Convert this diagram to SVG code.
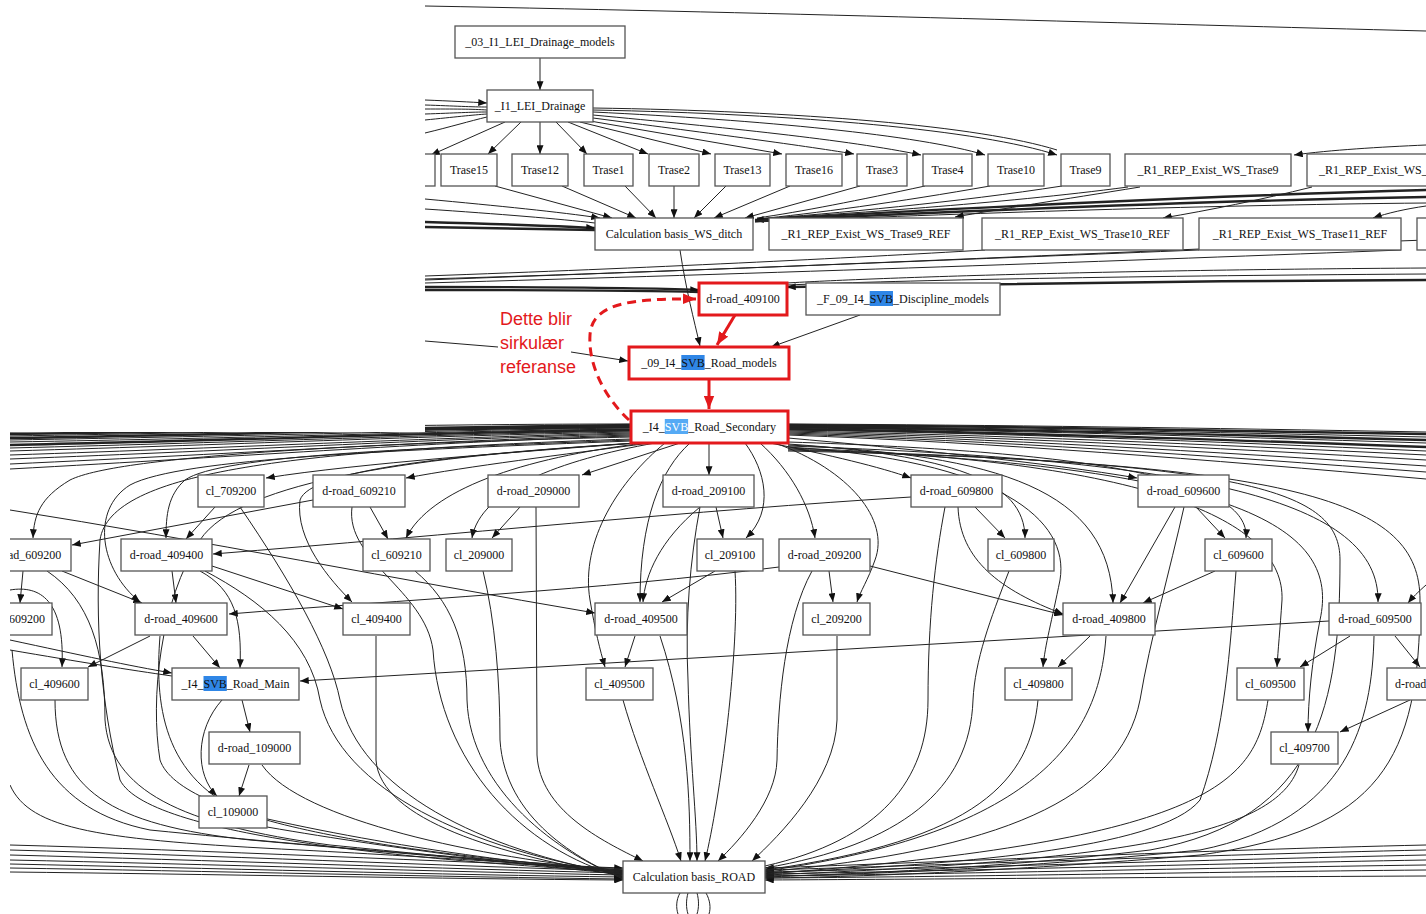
<svg xmlns="http://www.w3.org/2000/svg" width="1426" height="914" viewBox="0 0 1426 914">
<style>
.e{fill:none;stroke:#222;stroke-width:1}
.a{marker-end:url(#ah)}
.b{stroke-width:2.4}
.rd{fill:none;stroke:#e3191c;stroke-width:3;marker-end:url(#ar)}
.n rect{fill:#fff;stroke:#555;stroke-width:1.3}
.r rect{fill:#fff;stroke:#e3191c;stroke-width:3}
.n rect.hl,.r rect.hl{fill:#2f86e6;stroke:none}
.r rect.hl2{fill:#55aaf5;stroke:none}
.t{font-family:"Liberation Serif","Times New Roman",serif;font-size:12px;fill:#111;text-anchor:middle}
.ts{font-family:"Liberation Serif","Times New Roman",serif;font-size:12px;fill:#111}
.lab{font-family:"Liberation Sans",Arial,sans-serif;font-size:18px;fill:#e3191c}
</style>
<defs>
<marker id="ah" viewBox="0 0 10 8" refX="10" refY="4" markerWidth="9" markerHeight="7" markerUnits="userSpaceOnUse" orient="auto"><path d="M0,0L10,4L0,8z" fill="#111"/></marker>
<marker id="ar" viewBox="0 0 10 8" refX="10" refY="4" markerWidth="13" markerHeight="11" markerUnits="userSpaceOnUse" orient="auto"><path d="M0,0L10,4L0,8z" fill="#e3191c"/></marker>
<clipPath id="vis"><path d="M425,0H1426V914H10V432H425Z"/></clipPath>
</defs>
<rect width="1426" height="914" fill="#fff"/>
<g clip-path="url(#vis)">
<g id="connectors">
<!-- top -->
<path class="e" d="M425,6 C800,13 1150,24 1426,31"/>
<path class="e a" d="M540,58 L540,90"/>
<path class="e a" d="M425,100 C450,101 470,102 487,103"/>
<path class="e" d="M425,105 C455,106 472,107 487,107"/>
<path class="e" d="M425,109 C455,109 472,109 487,110"/>
<path class="e" d="M425,114 C455,113 472,112 487,112"/>
<path class="e" d="M425,120 C455,117 472,115 487,114"/>
<path class="e" d="M425,133 C450,127 470,121 487,117"/>
<path class="e a" d="M505,122 L431,155"/>
<path class="e a" d="M521,122 L488,154"/>
<path class="e a" d="M540,122 L540,154"/>
<path class="e a" d="M556,122 L587,154"/>
<path class="e a" d="M568,122 L648,154"/>
<path class="e a" d="M580,122 L711,154"/>
<path class="e a" d="M590,121 L782,154"/>
<path class="e a" d="M593,118 C700,132 800,145 854,154"/>
<path class="e a" d="M593,115 C720,127 850,140 921,155"/>
<path class="e a" d="M593,112 C760,120 920,135 985,155"/>
<path class="e a" d="M593,110 C800,114 980,130 1057,155"/>
<path class="e" d="M593,108 C800,111 980,126 1057,150"/>
<path class="e a" d="M1426,145 C1380,147 1330,150 1294,155"/>
<path class="e a" d="M425,199 C500,206 560,212 600,218"/>
<path class="e" d="M425,209 C500,214 560,219 595,223"/>
<path class="e b a" d="M425,222 C500,224 560,226 595,228"/>
<path class="e b" d="M425,227 C500,228 560,229 595,230"/>
<path class="e a" d="M495,186 L612,218"/>
<path class="e a" d="M562,186 L636,218"/>
<path class="e a" d="M625,186 L656,218"/>
<path class="e a" d="M674,186 L674,218"/>
<path class="e a" d="M726,186 L694,218"/>
<path class="e a" d="M790,186 L714,218"/>
<path class="e a" d="M860,186 L745,218"/>
<path class="e" d="M925,186 C860,200 800,212 757,218"/>
<path class="e" d="M990,186 C900,202 810,214 757,219"/>
<path class="e" d="M1062,186 C960,202 830,214 757,219"/>
<path class="e" d="M1128,187 C1000,204 840,214 757,219"/>
<path class="e b a" d="M1426,190 C1200,196 920,210 755,220"/>
<path class="e b" d="M1426,197 C1200,201 920,213 755,221"/>
<path class="e" d="M1426,203 C1200,205 920,215 755,222"/>
<path class="e a" d="M1140,187 C1060,200 1000,209 955,217"/>
<path class="e a" d="M1312,187 C1260,200 1210,210 1163,218"/>
<path class="e a" d="M1426,206 C1405,209 1388,213 1373,218"/>
<path class="e" d="M985,250 C850,258 650,268 425,276"/>
<path class="e" d="M1199,250 C1000,258 700,270 425,280"/>
<path class="e" d="M1401,250 C1150,260 750,274 425,283"/>
<path class="e" d="M1426,240 C1150,250 750,270 425,279"/>
<path class="e b a" d="M425,287 C550,287 650,288 699,290"/>
<path class="e b" d="M425,290 C550,290 640,290 699,292"/>
<path class="e b a" d="M1426,280 C1200,281 900,284 787,287"/>
<path class="e" d="M1426,268 C1100,270 870,278 787,283"/>
<path class="e" d="M1426,274 C1100,276 880,281 787,285"/>
<path class="e a" d="M680,250 C686,290 694,320 700,346"/>
<!-- middle -->
<path class="e" d="M425,341 L498,347"/>
<path class="e a" d="M571,352 L628,361"/>
<path class="rd" d="M735,315 L717,345"/>
<path class="e a" d="M860,315 L771,347"/>
<path class="rd" d="M709,380 L709,409"/>
<path class="rd" stroke-dasharray="9,6" d="M629,420 C605,398 588,365 590,335 C592,305 625,298 696,299"/>
<!-- secondary left bundle -->
<path class="e" d="M631,424 C450,424 250,428 10,432"/>
<path class="e b" d="M631,425 C450,426 250,430 10,434"/>
<path class="e" d="M631,426 C450,427 250,432 10,436"/>
<path class="e b" d="M631,427 C450,428 250,434 10,438"/>
<path class="e" d="M631,428 C450,430 250,436 10,440"/>
<path class="e" d="M631,429 C450,431 250,438 10,442"/>
<path class="e b" d="M631,430 C450,432 250,440 10,445"/>
<path class="e" d="M631,431 C450,434 250,442 10,448"/>
<path class="e" d="M631,432 C450,435 250,444 10,451"/>
<path class="e" d="M631,433 C450,437 250,447 10,455"/>
<path class="e" d="M631,434 C450,438 250,450 10,459"/>
<path class="e" d="M631,435 C450,440 250,453 10,464"/>
<path class="e" d="M631,436 C450,441 250,456 10,469"/>
<!-- secondary right bundle -->
<path class="e" d="M788,424 C1000,425 1200,428 1426,432"/>
<path class="e b" d="M788,425 C1000,426 1200,430 1426,434"/>
<path class="e" d="M788,426 C1000,428 1200,432 1426,437"/>
<path class="e b" d="M788,427 C1000,429 1200,434 1426,440"/>
<path class="e" d="M788,428 C1000,430 1200,436 1426,443"/>
<path class="e b" d="M788,429 C1000,432 1200,439 1426,447"/>
<path class="e" d="M788,430 C1000,433 1200,441 1426,451"/>
<path class="e" d="M788,431 C1000,435 1200,444 1426,455"/>
<path class="e" d="M788,432 C1000,437 1200,447 1426,460"/>
<path class="e" d="M788,433 C1000,439 1200,451 1426,466"/>
<path class="e" d="M788,434 C1000,441 1200,455 1426,472"/>
<path class="e" d="M788,435 C1000,443 1200,459 1426,479"/>
<!-- secondary children -->
<path class="e a" d="M636,443 C520,452 360,463 266,478"/>
<path class="e a" d="M650,443 C560,455 470,466 406,478"/>
<path class="e a" d="M680,443 L582,475"/>
<path class="e a" d="M709,443 L709,475"/>
<path class="e a" d="M770,443 C830,455 880,467 911,478"/>
<path class="e a" d="M788,438 C900,448 1050,463 1137,478"/>
<path class="e a" d="M631,437 C380,443 120,455 70,480 C40,498 34,515 33,538"/>
<path class="e a" d="M631,440 C420,448 220,455 185,480 C168,495 166,515 166,538"/>
<path class="e a" d="M631,441 C400,450 180,458 130,485 C90,510 100,570 140,602"/>
<path class="e a" d="M645,443 C520,458 430,490 406,538"/>
<path class="e a" d="M655,443 C560,460 480,490 472,538"/>
<path class="e a" d="M635,443 C450,455 310,470 300,500 C295,540 330,580 352,602"/>
<path class="e a" d="M690,443 C660,470 640,520 640,602"/>
<path class="e a" d="M665,443 C620,480 580,540 590,600 C595,630 600,650 605,667"/>
<path class="e a" d="M745,443 C765,470 775,510 746,538"/>
<path class="e a" d="M760,443 C790,470 810,505 815,538"/>
<path class="e a" d="M775,443 C850,470 890,520 875,560 C868,580 860,592 857,602"/>
<path class="e a" d="M788,444 C950,455 1025,480 1025,538"/>
<path class="e a" d="M788,445 C1000,455 1110,490 1113,603"/>
<path class="e a" d="M788,442 C1100,452 1250,480 1246,538"/>
<path class="e a" d="M788,446 C1200,460 1380,500 1378,602"/>
<path class="e a" d="M788,447 C1000,460 1070,520 1060,580 C1052,620 1045,645 1043,667"/>
<path class="e a" d="M788,448 C1150,460 1285,520 1282,600 C1280,630 1278,650 1277,667"/>
<path class="e a" d="M788,449 C1250,465 1340,530 1320,620 C1312,660 1308,700 1308,732"/>
<!-- other edges -->
<path class="e a" d="M1426,585 C1418,592 1412,598 1408,603"/>
<path class="e a" d="M215,507 L186,539"/>
<path class="e a" d="M313,500 L72,545"/>
<path class="e a" d="M370,507 L388,539"/>
<path class="e a" d="M520,507 L492,538"/>
<path class="e a" d="M716,507 L723,538"/>
<path class="e a" d="M700,507 C660,540 645,575 643,602"/>
<path class="e a" d="M715,571 L662,602"/>
<path class="e a" d="M975,507 L1005,538"/>
<path class="e a" d="M1196,507 L1225,538"/>
<path class="e a" d="M1175,507 L1120,603"/>
<path class="e a" d="M1215,571 L1143,603"/>
<path class="e a" d="M958,507 C960,560 1000,590 1063,614"/>
<path class="e a" d="M870,566 L1063,615"/>
<path class="e a" d="M829,571 L833,602"/>
<path class="e a" d="M911,497 C700,510 450,535 213,554"/>
<path class="e a" d="M779,567 C600,590 400,600 229,614"/>
<path class="e a" d="M10,510 C200,540 400,580 595,613"/>
<path class="e a" d="M23,571 L20,603"/>
<path class="e a" d="M62,571 L142,603"/>
<path class="e a" d="M172,571 L176,603"/>
<path class="e a" d="M212,566 L343,609"/>
<path class="e a" d="M150,636 L88,667"/>
<path class="e a" d="M10,590 C40,585 65,600 62,667"/>
<path class="e a" d="M10,640 C80,655 130,666 172,673"/>
<path class="e" d="M10,650 C80,662 130,670 172,676"/>
<path class="e a" d="M193,636 L220,668"/>
<path class="e a" d="M200,571 C235,590 242,620 240,668"/>
<path class="e a" d="M1329,621 L300,681"/>
<path class="e a" d="M635,636 L625,667"/>
<path class="e a" d="M1090,636 L1058,667"/>
<path class="e a" d="M1350,636 L1300,667"/>
<path class="e a" d="M1395,636 L1420,667"/>
<path class="e a" d="M1410,700 L1340,732"/>
<path class="e a" d="M242,700 L250,732"/>
<path class="e a" d="M222,700 C195,730 195,775 217,796"/>
<path class="e a" d="M249,765 L239,796"/>
<!-- into Calculation basis_ROAD: left -->
<path class="e a" d="M10,845 C200,850 450,862 623,868"/>
<path class="e a" d="M10,850 C200,855 450,866 623,871"/>
<path class="e a" d="M10,855 C200,860 450,869 623,873"/>
<path class="e a" d="M10,860 C200,864 450,872 623,875"/>
<path class="e a" d="M10,864 C200,868 450,875 623,877"/>
<path class="e a" d="M10,868 C200,871 450,877 623,879"/>
<path class="e a" d="M10,872 C200,874 450,879 623,880"/>
<path class="e" d="M10,785 C30,830 100,840 300,850 C450,858 560,866 623,870"/>
<path class="e" d="M12,650 C20,740 50,810 150,830 C350,850 520,862 623,869"/>
<path class="e" d="M55,700 C55,790 110,825 250,840 C420,855 550,866 623,871"/>
<path class="e" d="M47,571 C90,600 105,650 105,720 C110,790 180,825 330,845 C480,860 570,868 623,872"/>
<path class="e" d="M160,636 C155,700 160,780 250,815 C400,850 550,866 623,873"/>
<path class="e" d="M205,571 C260,600 310,640 320,700 C340,790 470,850 623,874"/>
<path class="e" d="M240,507 C290,580 330,650 340,700 C360,790 480,850 623,875"/>
<path class="e" d="M376,636 L376,760 C380,820 500,855 623,876"/>
<path class="e" d="M352,507 C345,560 425,590 433,650 C440,760 520,850 623,877"/>
<path class="e" d="M415,571 C450,600 467,640 467,700 C470,790 560,855 623,878"/>
<path class="e" d="M483,571 C495,620 500,680 500,740 C505,820 580,860 623,879"/>
<path class="e" d="M640,443 C420,456 240,480 200,540 C160,600 150,700 160,760 C180,820 400,855 623,870"/>
<path class="e" d="M631,439 C300,450 110,470 100,540 C95,620 100,700 120,780 C150,840 450,862 623,872"/>
<path class="e" d="M267,827 C400,850 550,868 623,874"/>
<path class="e" d="M262,765 C300,820 480,858 623,871"/>
<!-- into Calculation basis_ROAD: top -->
<path class="e a" d="M536,507 L537,755 C540,810 600,840 643,861"/>
<path class="e a" d="M623,700 C640,760 668,820 681,861"/>
<path class="e a" d="M660,636 C688,720 690,800 690,861"/>
<path class="e a" d="M700,507 C690,560 685,620 688,680 C690,760 697,820 697,861"/>
<path class="e a" d="M735,571 C740,650 720,800 705,861"/>
<path class="e a" d="M812,571 C785,620 778,700 777,760 C776,800 740,840 718,861"/>
<path class="e a" d="M837,636 L837,720 C835,780 780,835 752,861"/>
<!-- into Calculation basis_ROAD: right -->
<path class="e a" d="M1426,845 C1200,850 950,862 765,868"/>
<path class="e a" d="M1426,850 C1200,855 950,865 765,870"/>
<path class="e a" d="M1426,855 C1200,860 950,868 765,872"/>
<path class="e a" d="M1426,860 C1200,864 950,871 765,874"/>
<path class="e a" d="M1426,865 C1200,868 950,874 765,876"/>
<path class="e a" d="M1426,870 C1200,872 950,877 765,878"/>
<path class="e a" d="M1426,876 C1200,877 950,879 765,880"/>
<path class="e" d="M945,507 C935,560 928,620 928,700 C928,780 880,840 765,866"/>
<path class="e" d="M1009,571 C990,620 975,660 973,700 C970,790 900,845 765,868"/>
<path class="e" d="M1038,700 C1030,780 980,840 765,870"/>
<path class="e" d="M1106,636 C1100,720 1060,830 765,871"/>
<path class="e" d="M1184,507 C1170,570 1150,640 1140,700 C1120,800 1000,850 765,872"/>
<path class="e" d="M1236,571 C1230,650 1225,730 1200,800 C1160,850 950,865 765,873"/>
<path class="e" d="M1268,700 C1255,780 1220,840 765,874"/>
<path class="e" d="M1299,765 C1280,830 1150,860 765,875"/>
<path class="e" d="M1374,636 C1372,720 1350,820 1200,850 C1000,870 850,875 765,876"/>
<path class="e" d="M788,450 C1250,462 1340,490 1340,560 C1340,700 1320,820 1150,850 C1000,868 850,874 765,877"/>
<path class="e" d="M788,451 C1300,462 1420,500 1420,600 C1420,760 1380,830 1200,855 C1000,872 850,877 765,878"/>
<!-- below -->
<path class="e" d="M680,893 C676,900 676,908 678,914"/>
<path class="e" d="M688,893 C686,900 686,908 688,914"/>
<path class="e" d="M697,893 C699,900 699,908 697,914"/>
<path class="e" d="M706,893 C710,900 711,908 709,914"/>
</g>
<!-- top nodes -->
<g id="n_03_I1_LEI_Drainage_models" class="n"><rect x="455" y="26" width="170" height="32"/><text class="t" x="540" y="46">_03_I1_LEI_Drainage_models</text></g>
<g id="n_I1_LEI_Drainage" class="n"><rect x="487" y="90" width="106" height="32"/><text class="t" x="540" y="110">_I1_LEI_Drainage</text></g>
<g id="n_partial_left" class="n"><rect x="395" y="154" width="40" height="32"/></g>
<g id="n_Trase15" class="n"><rect x="441" y="154" width="56" height="32"/><text class="t" x="469" y="174">Trase15</text></g>
<g id="n_Trase12" class="n"><rect x="512" y="154" width="56" height="32"/><text class="t" x="540" y="174">Trase12</text></g>
<g id="n_Trase1" class="n"><rect x="584" y="154" width="49" height="32"/><text class="t" x="608.5" y="174">Trase1</text></g>
<g id="n_Trase2" class="n"><rect x="649" y="154" width="50" height="32"/><text class="t" x="674" y="174">Trase2</text></g>
<g id="n_Trase13" class="n"><rect x="715" y="154" width="55" height="32"/><text class="t" x="742.5" y="174">Trase13</text></g>
<g id="n_Trase16" class="n"><rect x="786" y="154" width="56" height="32"/><text class="t" x="814" y="174">Trase16</text></g>
<g id="n_Trase3" class="n"><rect x="857" y="154" width="50" height="32"/><text class="t" x="882" y="174">Trase3</text></g>
<g id="n_Trase4" class="n"><rect x="923" y="154" width="49" height="32"/><text class="t" x="947.5" y="174">Trase4</text></g>
<g id="n_Trase10" class="n"><rect x="988" y="154" width="56" height="32"/><text class="t" x="1016" y="174">Trase10</text></g>
<g id="n_Trase9" class="n"><rect x="1061" y="154" width="49" height="32"/><text class="t" x="1085.5" y="174">Trase9</text></g>
<g id="n_R1_REP_Exist_WS_Trase9" class="n"><rect x="1125" y="154" width="166" height="32"/><text class="t" x="1208" y="174">_R1_REP_Exist_WS_Trase9</text></g>
<g id="n_R1_REP_Exist_WS_cut" class="n"><rect x="1307" y="154" width="200" height="32"/><text class="ts" x="1319" y="174">_R1_REP_Exist_WS_</text></g>
<g id="n_Calc_WS_ditch" class="n"><rect x="595" y="218" width="158" height="32"/><text class="t" x="674" y="238">Calculation basis_WS_ditch</text></g>
<g id="n_R1_Trase9_REF" class="n"><rect x="769" y="218" width="194" height="32"/><text class="t" x="866" y="238">_R1_REP_Exist_WS_Trase9_REF</text></g>
<g id="n_R1_Trase10_REF" class="n"><rect x="982" y="218" width="201" height="32"/><text class="t" x="1082.5" y="238">_R1_REP_Exist_WS_Trase10_REF</text></g>
<g id="n_R1_Trase11_REF" class="n"><rect x="1199" y="218" width="202" height="32"/><text class="t" x="1300" y="238">_R1_REP_Exist_WS_Trase11_REF</text></g>
<g id="n_partial_right" class="n"><rect x="1417" y="218" width="60" height="32"/></g>
<!-- middle -->
<g id="n_d-road_409100" class="r"><rect x="699" y="283" width="88" height="32"/><text class="t" x="743" y="303">d-road_409100</text></g>
<g id="n_F_09_I4_SVB_Discipline_models" class="n"><rect x="806" y="283" width="194" height="32"/><rect class="hl" x="869.7" y="291" width="23.3" height="15"/><text class="ts" x="817" y="303">_F_09_I4_<tspan>SVB</tspan>_Discipline_models</text></g>
<g id="n_09_I4_SVB_Road_models" class="r"><rect x="629" y="347" width="160" height="32"/><rect class="hl" x="681.3" y="355" width="23.3" height="15"/><text class="ts" x="641.3" y="367">_09_I4_<tspan>SVB</tspan>_Road_models</text></g>
<g id="n_I4_SVB_Road_Secondary" class="r"><rect x="631" y="411" width="157" height="32"/><rect class="hl2" x="664.8" y="419" width="23.3" height="15"/><text class="ts" x="642.8" y="431">_I4_<tspan style="fill:#fff">SVB</tspan>_Road_Secondary</text></g>
<g id="label"><text class="lab" x="500" y="325">Dette blir</text><text class="lab" x="500" y="349">sirkulær</text><text class="lab" x="500" y="373">referanse</text></g>
<!-- lower rows -->
<g id="n_cl_709200" class="n"><rect x="198" y="475" width="66" height="32"/><text class="t" x="231" y="495">cl_709200</text></g>
<g id="n_d-road_609210" class="n"><rect x="313" y="475" width="92" height="32"/><text class="t" x="359" y="495">d-road_609210</text></g>
<g id="n_d-road_209000" class="n"><rect x="488" y="475" width="91" height="32"/><text class="t" x="533.5" y="495">d-road_209000</text></g>
<g id="n_d-road_209100" class="n"><rect x="663" y="475" width="91" height="32"/><text class="t" x="708.5" y="495">d-road_209100</text></g>
<g id="n_d-road_609800" class="n"><rect x="911" y="475" width="91" height="32"/><text class="t" x="956.5" y="495">d-road_609800</text></g>
<g id="n_d-road_609600" class="n"><rect x="1138" y="475" width="91" height="32"/><text class="t" x="1183.5" y="495">d-road_609600</text></g>
<g id="n_d-road_609200" class="n"><rect x="-25" y="539" width="96" height="32"/><text class="ts" x="8" y="559">ad_609200</text></g>
<g id="n_d-road_409400" class="n"><rect x="121" y="539" width="91" height="32"/><text class="t" x="166.5" y="559">d-road_409400</text></g>
<g id="n_cl_609210" class="n"><rect x="363" y="539" width="67" height="32"/><text class="t" x="396.5" y="559">cl_609210</text></g>
<g id="n_cl_209000" class="n"><rect x="446" y="539" width="66" height="32"/><text class="t" x="479" y="559">cl_209000</text></g>
<g id="n_cl_209100" class="n"><rect x="697" y="539" width="66" height="32"/><text class="t" x="730" y="559">cl_209100</text></g>
<g id="n_d-road_209200" class="n"><rect x="779" y="539" width="91" height="32"/><text class="t" x="824.5" y="559">d-road_209200</text></g>
<g id="n_cl_609800" class="n"><rect x="988" y="539" width="66" height="32"/><text class="t" x="1021" y="559">cl_609800</text></g>
<g id="n_cl_609600" class="n"><rect x="1205" y="539" width="67" height="32"/><text class="t" x="1238.5" y="559">cl_609600</text></g>
<g id="n_cl_609200" class="n"><rect x="-15" y="603" width="67" height="32"/><text class="ts" x="9" y="623">609200</text></g>
<g id="n_d-road_409600" class="n"><rect x="135" y="603" width="92" height="32"/><text class="t" x="181" y="623">d-road_409600</text></g>
<g id="n_cl_409400" class="n"><rect x="343" y="603" width="67" height="32"/><text class="t" x="376.5" y="623">cl_409400</text></g>
<g id="n_d-road_409500" class="n"><rect x="595" y="603" width="92" height="32"/><text class="t" x="641" y="623">d-road_409500</text></g>
<g id="n_cl_209200" class="n"><rect x="803" y="603" width="67" height="32"/><text class="t" x="836.5" y="623">cl_209200</text></g>
<g id="n_d-road_409800" class="n"><rect x="1063" y="603" width="92" height="32"/><text class="t" x="1109" y="623">d-road_409800</text></g>
<g id="n_d-road_609500" class="n"><rect x="1329" y="603" width="92" height="32"/><text class="t" x="1375" y="623">d-road_609500</text></g>
<g id="n_cl_409600" class="n"><rect x="21" y="668" width="67" height="32"/><text class="t" x="54.5" y="688">cl_409600</text></g>
<g id="n_I4_SVB_Road_Main" class="n"><rect x="172" y="668" width="127" height="32"/><rect class="hl" x="203.5" y="676" width="23.3" height="15"/><text class="ts" x="181.5" y="688">_I4_<tspan>SVB</tspan>_Road_Main</text></g>
<g id="n_cl_409500" class="n"><rect x="586" y="668" width="67" height="32"/><text class="t" x="619.5" y="688">cl_409500</text></g>
<g id="n_cl_409800" class="n"><rect x="1005" y="668" width="67" height="32"/><text class="t" x="1038.5" y="688">cl_409800</text></g>
<g id="n_cl_609500" class="n"><rect x="1237" y="668" width="67" height="32"/><text class="t" x="1270.5" y="688">cl_609500</text></g>
<g id="n_d-road_cut" class="n"><rect x="1387" y="668" width="92" height="32"/><text class="ts" x="1395" y="688">d-road</text></g>
<g id="n_d-road_109000" class="n"><rect x="209" y="732" width="91" height="32"/><text class="t" x="254.5" y="752">d-road_109000</text></g>
<g id="n_cl_409700" class="n"><rect x="1271" y="732" width="67" height="32"/><text class="t" x="1304.5" y="752">cl_409700</text></g>
<g id="n_cl_109000" class="n"><rect x="199" y="796" width="68" height="32"/><text class="t" x="233" y="816">cl_109000</text></g>
<g id="n_Calc_ROAD" class="n"><rect x="623" y="861" width="142" height="32"/><text class="t" x="694" y="881">Calculation basis_ROAD</text></g>
</g>
</svg>
